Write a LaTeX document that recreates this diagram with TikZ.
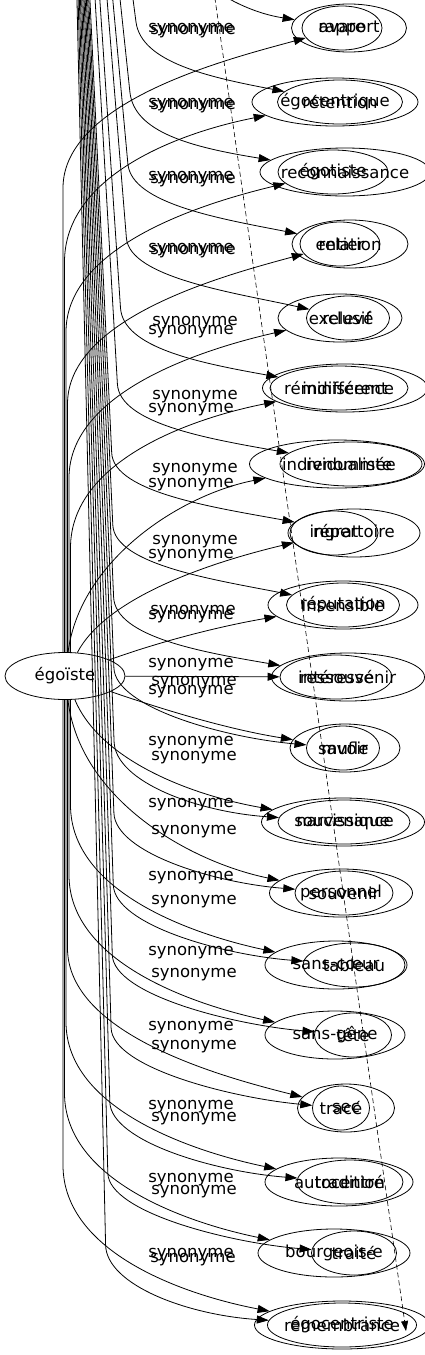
\documentclass[tikz,border=0pt]{standalone}
\usepackage{fontspec}
\newfontfamily\dv{DejaVu Sans}
\usetikzlibrary{shapes.geometric,arrows.meta}
\newcommand\nfont{\dv\fontsize{16.5}{19}\selectfont}
\begin{document}
\begin{tikzpicture}[x=1pt,y=-1pt,
  nd/.style={ellipse, draw, inner sep=0pt, line width=0.8pt},
  every label/.style={font=\nfont, inner sep=0pt, text=black},
  lab/.style={font=\nfont, inner sep=0pt},
  con/.style={line width=0.8pt, -{Triangle[length=12pt,width=8pt]}},
  dsh/.style={line width=0.6pt, dash pattern=on 5pt off 3pt, -{Triangle[length=10pt,width=7pt]}}]
\useasboundingbox (0,0) rectangle (425,1355);
\fill[white] (0,0) rectangle (425,1355);
\clip (0,0) rectangle (425,1355);

% central node
\node[nd, minimum width=120pt, minimum height=47pt, label={center:égoïste}] (ego) at (65,676) {};
\coordinate (msrc) at (65,-520);
\coordinate (dtop) at (208,-50);
\coordinate (dtip) at (406,1331);

% row nodes: a = égoïste graph, b = other graph
\node[nd, minimum width=80pt,  minimum height=44pt, label={center:avare}]          (a1)  at (342,28) {};
\node[nd, minimum width=115pt, minimum height=48pt, label={center:rapport}]        (b1)  at (349,28) {};
\node[nd, minimum width=166pt, minimum height=48pt, label={center:égocentrique}]   (a2)  at (335,102) {};
\node[nd, minimum width=125pt, minimum height=44pt, label={center:rétention}]      (b2)  at (340,102) {};
\node[nd, minimum width=110pt, minimum height=44pt, label={center:égotiste}]       (a3)  at (333,172) {};
\node[nd, minimum width=170pt, minimum height=48pt, label={center:reconnaissance}] (b3)  at (345,172) {};
\node[nd, minimum width=80pt,  minimum height=44pt, label={center:entier}]         (a4)  at (340,244) {};
\node[nd, minimum width=116pt, minimum height=48pt, label={center:relation}]       (b4)  at (350,244) {};
\node[nd, minimum width=124pt, minimum height=48pt, label={center:exclusif}]       (a5)  at (340,318) {};
\node[nd, minimum width=83pt,  minimum height=44pt, label={center:relevé}]         (b5)  at (348,318) {};
\node[nd, minimum width=165pt, minimum height=48pt, label={center:indifférent}]    (a6)  at (345,388) {};
\node[nd, minimum width=138pt, minimum height=44pt, label={center:réminiscence}]   (b6)  at (339,388) {};
\node[nd, minimum width=175pt, minimum height=48pt, label={center:individualiste}] (a7)  at (337,464) {};
\node[nd, minimum width=142pt, minimum height=44pt, label={center:renommée}]       (b7)  at (351,464) {};
\node[nd, minimum width=88pt,  minimum height=44pt, label={center:ingrat}]         (a8)  at (334,533) {};
\node[nd, minimum width=132pt, minimum height=48pt, label={center:répertoire}]     (b8)  at (354,533) {};
\node[nd, minimum width=150pt, minimum height=48pt, label={center:insensible}]     (a9)  at (343,605) {};
\node[nd, minimum width=113pt, minimum height=44pt, label={center:réputation}]     (b9)  at (343,605) {};
\node[nd, minimum width=112pt, minimum height=44pt, label={center:intéressé}]      (a10) at (336,677) {};
\node[nd, minimum width=153pt, minimum height=48pt, label={center:ressouvenir}]    (b10) at (348,677) {};
\node[nd, minimum width=110pt, minimum height=48pt, label={center:mufle}]          (a11) at (345,748) {};
\node[nd, minimum width=73pt,  minimum height=44pt, label={center:savoir}]         (b11) at (343,748) {};
\node[nd, minimum width=163pt, minimum height=48pt, label={center:narcissique}]    (a12) at (343,822) {};
\node[nd, minimum width=132pt, minimum height=44pt, label={center:souvenance}]     (b12) at (344,822) {};
\node[nd, minimum width=143pt, minimum height=48pt, label={center:personnel}]      (a13) at (341,893) {};
\node[nd, minimum width=98pt,  minimum height=44pt, label={center:souvenir}]       (b13) at (344,893) {};
\node[nd, minimum width=142pt, minimum height=48pt, label={center:sans-cœur}]      (a14) at (336,965) {};
\node[nd, minimum width=102pt, minimum height=44pt, label={center:tableau}]        (b14) at (354,965) {};
\node[nd, minimum width=140pt, minimum height=48pt, label={center:sans-gêne}]      (a15) at (335,1035) {};
\node[nd, minimum width=77pt,  minimum height=44pt, label={center:tête}]           (b15) at (353,1035) {};
\node[nd, minimum width=97pt,  minimum height=48pt, label={center:sec}]            (a16) at (346,1108) {};
\node[nd, minimum width=57pt,  minimum height=44pt, label={center:tracé}]          (b16) at (341,1108) {};
\node[nd, minimum width=148pt, minimum height=48pt, label={center:autocentré}]     (a17) at (339,1182) {};
\node[nd, minimum width=106pt, minimum height=44pt, label={center:tradition}]      (b17) at (350,1182) {};
\node[nd, minimum width=152pt, minimum height=48pt, label={center:bourgeois-e}]    (a18) at (334,1253) {};
\node[nd, minimum width=85pt,  minimum height=44pt, label={center:traité}]         (b18) at (354,1253) {};
\node[nd, minimum width=175pt, minimum height=48pt, label={center:égocentriste}]   (a19) at (342,1325) {};
\node[nd, minimum width=149pt, minimum height=44pt, label={center:remembrance}]    (b19) at (342,1325) {};

% edge labels
\node[lab] (l1)  at (191,30) {synonyme};
\node[lab] (l2)  at (193,32) {synonyme};
\node[lab] (l3)  at (191,105) {synonyme};
\node[lab] (l4)  at (193,107) {synonyme};
\node[lab] (l5)  at (191,178) {synonyme};
\node[lab] (l6)  at (193,181) {synonyme};
\node[lab] (l7)  at (191,250) {synonyme};
\node[lab] (l8)  at (193,252) {synonyme};
\node[lab] (l9)  at (195,323) {synonyme};
\node[lab] (l10) at (191,332) {synonyme};
\node[lab] (l11) at (195,397) {synonyme};
\node[lab] (l12) at (191,410) {synonyme};
\node[lab] (l13) at (195,470) {synonyme};
\node[lab] (l14) at (191,485) {synonyme};
\node[lab] (l15) at (195,542) {synonyme};
\node[lab] (l16) at (191,556) {synonyme};
\node[lab] (l17) at (193,612) {synonyme};
\node[lab] (l18) at (191,617) {synonyme};
\node[lab] (l19) at (191,665) {synonyme};
\node[lab] (l20) at (194,683) {synonyme};
\node[lab] (l21) at (191,692) {synonyme};
\node[lab] (l22) at (191,743) {synonyme};
\node[lab] (l23) at (194,758) {synonyme};
\node[lab] (l24) at (191,805) {synonyme};
\node[lab] (l25) at (194,832) {synonyme};
\node[lab] (l26) at (191,878) {synonyme};
\node[lab] (l27) at (194,902) {synonyme};
\node[lab] (l28) at (191,953) {synonyme};
\node[lab] (l29) at (194,975) {synonyme};
\node[lab] (l30) at (191,1028) {synonyme};
\node[lab] (l31) at (194,1047) {synonyme};
\node[lab] (l32) at (191,1107) {synonyme};
\node[lab] (l33) at (194,1119) {synonyme};
\node[lab] (l34) at (191,1180) {synonyme};
\node[lab] (l35) at (194,1192) {synonyme};
\node[lab] (l36) at (191,1255) {synonyme};
\node[lab] (l37) at (193,1260) {synonyme};

% edges from égoïste (upper, far)
\draw[con] ([xshift=-2pt]ego.north) -- (63,188) .. controls (63,100) and (232,58) .. (a1);
\draw[con] ([xshift=-0.5pt]ego.north) -- (64.5,262) .. controls (64.5,174) and (182,132) .. (a2);
\draw[con] ([xshift=1pt]ego.north) -- (66,332) .. controls (66,244) and (208,202) .. (a3);
\draw[con] ([xshift=2.5pt]ego.north) -- (67.5,404) .. controls (67.5,316) and (230,274) .. (a4);
\draw[con] ([xshift=4pt]ego.north) -- (69,478) .. controls (69,390) and (208,348) .. (a5);
\draw[con] ([xshift=5.5pt]ego.north) -- (70.5,548) .. controls (70.5,460) and (193,418) .. (a6);
% near
\draw[con] (ego) .. controls (80,560) and (180,495) .. (a7);
\draw[con] (ego) .. controls (105,600) and (200,565) .. (a8);
\draw[con] (ego) .. controls (150,645) and (210,628) .. (a9);
\draw[con] (ego) -- (a10);
\draw[con] (ego) .. controls (150,705) and (220,728) .. (a11);
\draw[con] (ego) .. controls (100,760) and (190,795) .. (a12);
\draw[con] (ego) .. controls (80,800) and (190,862) .. (a13);
% lower, far
\draw[con] ([xshift=5.5pt]ego.south) -- (70.5,805) .. controls (70.5,893) and (195,935) .. (a14);
\draw[con] ([xshift=4pt]ego.south) -- (69,875) .. controls (69,963) and (195,1005) .. (a15);
\draw[con] ([xshift=2.5pt]ego.south) -- (67.5,948) .. controls (67.5,1036) and (227,1078) .. (a16);
\draw[con] ([xshift=1pt]ego.south) -- (66,1022) .. controls (66,1110) and (195,1152) .. (a17);
\draw[con] ([xshift=-0.5pt]ego.south) -- (64.5,1093) .. controls (64.5,1181) and (188,1223) .. (a18);
\draw[con] ([xshift=-2pt]ego.south) -- (63,1165) .. controls (63,1253) and (185,1295) .. (a19);

% edges from the source above the picture
\draw[con] (msrc) -- (150,-90) .. controls (172,-30) and (232,10) .. (b1);
\draw[con] (msrc) -- (136,22) .. controls (141.2,62) and (207.5,77) .. (b2);
\draw[con] (msrc) -- (129.9,92) .. controls (134.1,132) and (190,147) .. (b3);
\draw[con] (msrc) -- (127.9,164) .. controls (131.6,204) and (222,219) .. (b4);
\draw[con] (msrc) -- (126.4,238) .. controls (129.6,278) and (236.5,293) .. (b5);
\draw[con] (msrc) -- (120.5,308) .. controls (123.2,348) and (200,363) .. (b6);
\draw[con] (msrc) -- (117.4,384) .. controls (119.7,424) and (210,439) .. (b7);
\draw[con] (msrc) -- (111.7,453) .. controls (113.6,493) and (218,508) .. (b8);
\draw[con] (msrc) -- (112.8,525) .. controls (114.6,565) and (216.5,580) .. (b9);
\draw[con] (msrc) -- (113.6,597) .. controls (115.3,637) and (201.5,652) .. (b10);
\draw[con] (msrc) -- (113.9,668) .. controls (115.5,708) and (226.5,738) .. (b11);
\draw[con] (msrc) -- (114.1,742) .. controls (115.7,782) and (198,812) .. (b12);
\draw[con] (msrc) -- (113.9,813) .. controls (115.4,853) and (215,883) .. (b13);
\draw[con] (msrc) -- (113.3,885) .. controls (114.7,925) and (223,955) .. (b14);
\draw[con] (msrc) -- (112.3,955) .. controls (113.6,995) and (234.5,1025) .. (b15);
\draw[con] (msrc) -- (111.1,1028) .. controls (112.3,1068) and (232.5,1098) .. (b16);
\draw[con] (msrc) -- (109.8,1102) .. controls (110.9,1142) and (217,1172) .. (b17);
\draw[con] (msrc) -- (107.8,1173) .. controls (108.8,1213) and (231.5,1243) .. (b18);
\draw[con] (msrc) -- (105.6,1245) .. controls (106.5,1285) and (187.5,1315) .. (b19);

% dashed connector
\draw[dsh] (dtop) -- (dtip);
\end{tikzpicture}
\end{document}
